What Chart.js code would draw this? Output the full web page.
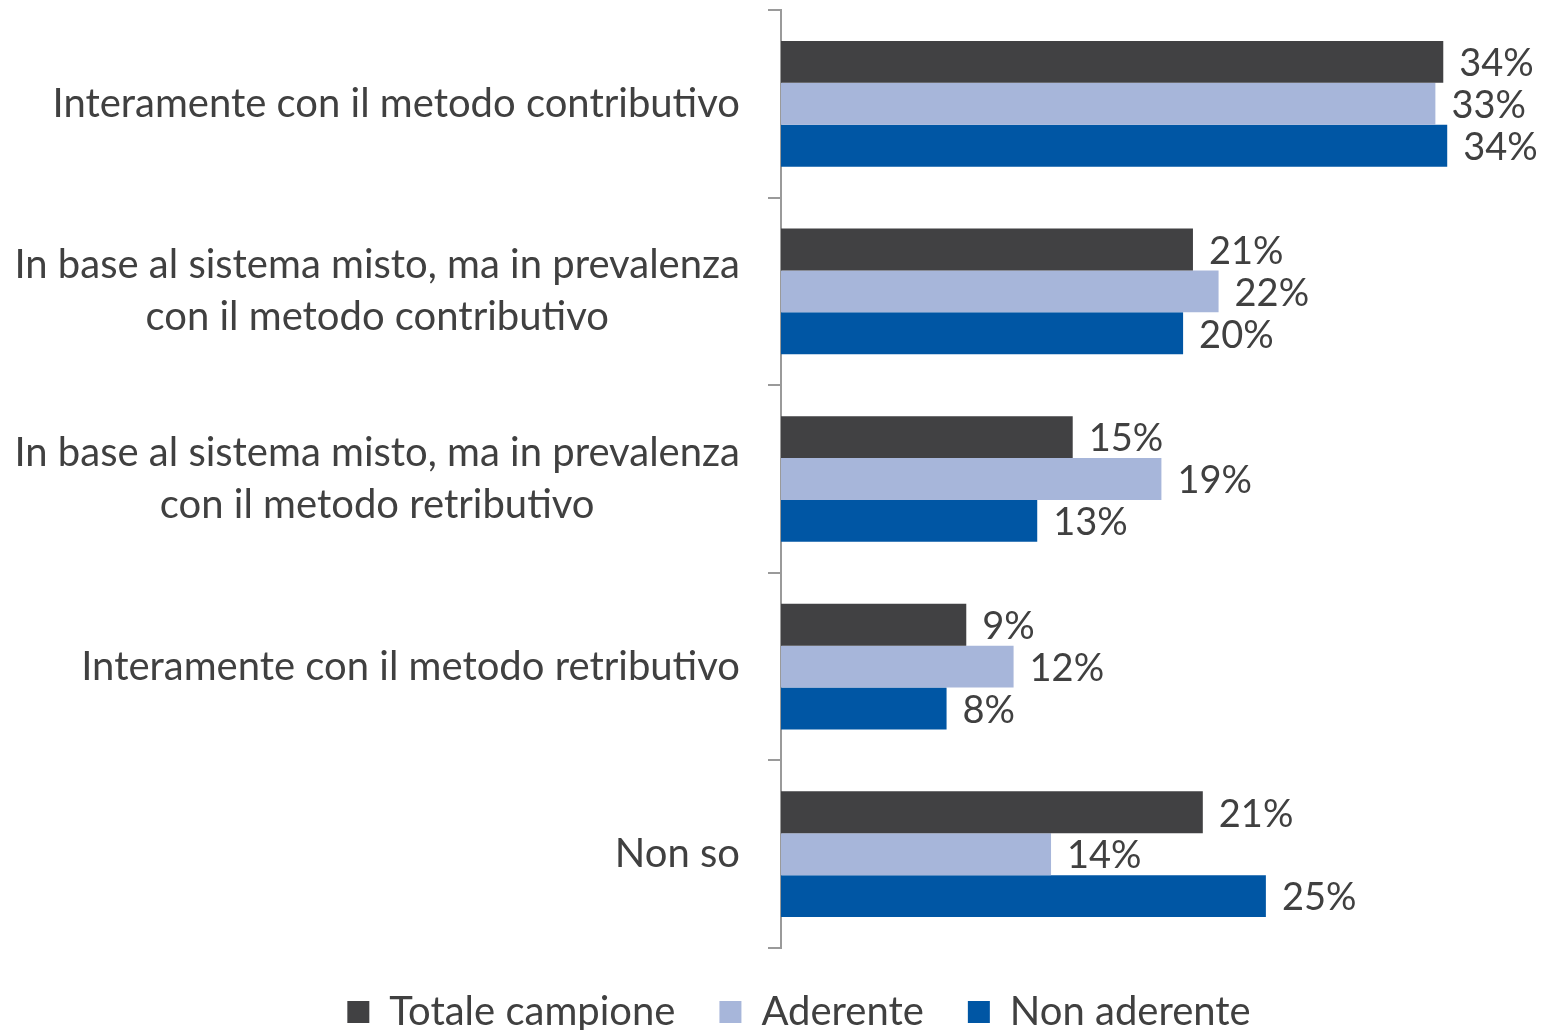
<!DOCTYPE html>
<html lang="it">
<head>
<meta charset="UTF-8">
<title>Metodo di calcolo della pensione</title>
<script src="https://cdn.jsdelivr.net/npm/chart.js"></script>
<style>
  html, body { margin: 0; padding: 0; background: #fff; }
  #wrap { width: 1543px; height: 1030px; }
</style>
</head>
<body>
<div id="wrap"><canvas id="myChart"></canvas></div>
<script>
  // categories (multi-line where the original wraps)
  const categories = [
    'Interamente con il metodo contributivo',
    ['In base al sistema misto, ma in prevalenza', 'con il metodo contributivo'],
    ['In base al sistema misto, ma in prevalenza', 'con il metodo retributivo'],
    'Interamente con il metodo retributivo',
    'Non so'
  ];
  const seriesNames = ['Totale campione', 'Aderente', 'Non aderente'];
  const totale = [33.6, 20.9, 14.8, 9.4, 21.4];
  const aderente = [33.2, 22.2, 19.3, 11.8, 13.7];
  const nonAderente = [33.8, 20.4, 13.0, 8.4, 24.6];
  const colors = ['#414143', '#a7b6da', '#0056a4'];

  const FONT = 'Lato';
  const TEXT = '#404040';

  // y labels: single lines right aligned, wrapped ones centred on their widest line
  const yLabelsPlugin = {
    id: 'yLabels',
    afterDraw(chart) {
      const ctx = chart.ctx;
      const scale = chart.scales.y;
      const right = scale.right - 41;
      const lh = 52;
      ctx.save();
      ctx.font = '40px ' + FONT;
      ctx.fillStyle = TEXT;
      ctx.textBaseline = 'middle';
      categories.forEach((lab, i) => {
        const y = scale.getPixelForTick(i);
        const lines = Array.isArray(lab) ? lab : [lab];
        const w = Math.max(...lines.map(l => ctx.measureText(l).width));
        const cx = right - w / 2;
        ctx.textAlign = 'center';
        lines.forEach((l, k) => {
          ctx.fillText(l, cx, y + (k - (lines.length - 1) / 2) * lh);
        });
      });
      ctx.restore();
    }
  };

  // value labels right of each bar
  const valueLabelsPlugin = {
    id: 'valueLabels',
    afterDatasetsDraw(chart) {
      const ctx = chart.ctx;
      ctx.save();
      ctx.font = '38px ' + FONT;
      ctx.fillStyle = TEXT;
      ctx.textAlign = 'left';
      ctx.textBaseline = 'middle';
      chart.data.datasets.forEach((ds, di) => {
        chart.getDatasetMeta(di).data.forEach((bar, i) => {
          ctx.fillText(Math.round(ds.data[i]) + '%', bar.x + 16, bar.y + 2);
        });
      });
      ctx.restore();
    }
  };

  const ctx = document.getElementById('myChart').getContext('2d');
  const myChart = new Chart(ctx, {
    type: 'bar',
    data: {
      labels: categories,
      datasets: [totale, aderente, nonAderente].map((vals, i) => ({
        label: seriesNames[i],
        data: vals,
        backgroundColor: colors[i],
        borderWidth: 0,
        categoryPercentage: 0.67,
        barPercentage: 1.0
      }))
    },
    options: {
      indexAxis: 'y',
      responsive: true,
      maintainAspectRatio: false,
      animation: false,
      layout: { padding: { left: 68, right: 13, top: 10, bottom: -12 } },
      scales: {
        x: { display: false, min: 0, max: 38 },
        y: {
          afterFit: (scale) => { scale.width = 713; },
          ticks: { display: false },
          grid: {
            drawOnChartArea: false,
            drawTicks: true,
            tickLength: 13,
            color: '#9a9a9a',
            lineWidth: 2
          },
          border: { display: true, color: '#9a9a9a', width: 2 }
        }
      },
      plugins: {
        tooltip: { enabled: false },
        legend: {
          position: 'bottom',
          labels: {
            boxWidth: 22,
            boxHeight: 22,
            padding: 44,
            color: TEXT,
            font: { family: FONT, size: 40 }
          }
        }
      }
    },
    plugins: [yLabelsPlugin, valueLabelsPlugin]
  });
</script>
</body>
</html>
